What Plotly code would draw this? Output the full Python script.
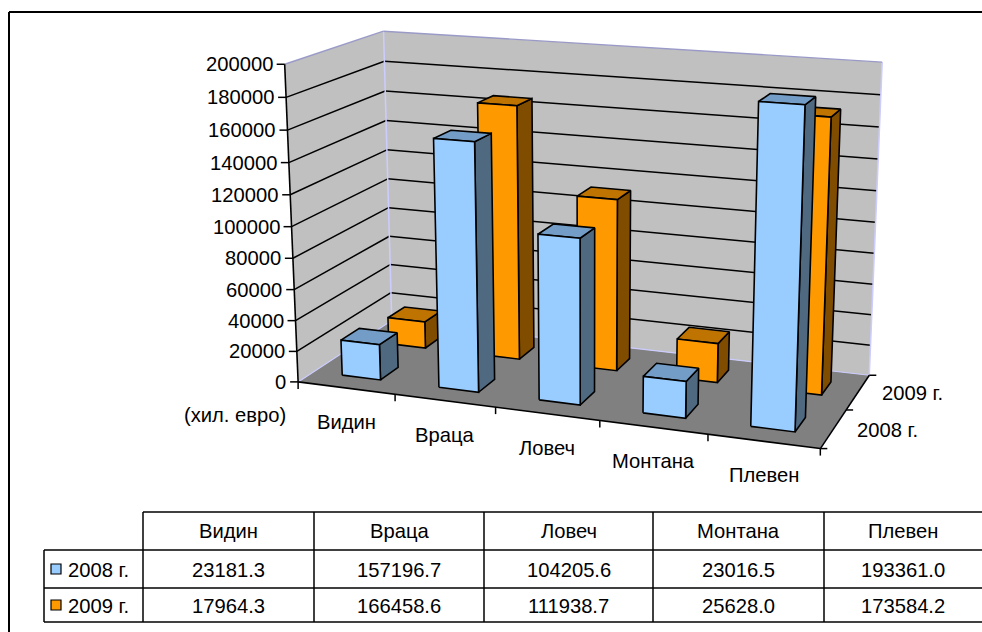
import numpy as np
import plotly.graph_objects as go

categories = ["Видин", "Враца", "Ловеч", "Монтана", "Плевен"]
series_names = ["2008 г.", "2009 г."]
values_2008 = [23181.3, 157196.7, 104205.6, 23016.5, 193361.0]
values_2009 = [17964.3, 166458.6, 111938.7, 25628.0, 173584.2]
value_ticks = [0, 20000, 40000, 60000, 80000, 100000, 120000, 140000, 160000, 180000, 200000]
unit_label = "(хил. евро)"

VMAX = 200000.0
FONT = "Liberation Sans"
FS = 20.2
FRONT = ["#99CCFF", "#FF9900"]
SIDE = ["#4F6980", "#804D00"]
TOP = ["#739DC6", "#BF7300"]

# view calibration: (category pos, depth pos, value fraction) <-> page pixel
calib = [
    (0, 0, 0, 298, 381), (1, 0, 0, 395, 393), (2, 0, 0, 496, 407), (3, 0, 0, 600, 421),
    (4, 0, 0, 708, 435), (5, 0, 0, 821, 448), (5, 2, 0, 869, 375), (0, 2, 0, 392, 322),
    (0, 0, 1, 285, 65), (0, 0, 1, 285, 65), (0, 0, .5, 290, 226), (0, 2, 1, 384, 30),
    (5, 2, 1, 882, 61), (5, 2, .5, 875, 223), (0, 2, .5, 388, 179),
    (4.3, .31, .9668, 759, 102), (1.3, .31, .786, 433, 139),
]
A, b = [], []
for u, v, w, x, y in calib:
    A.append([u, v, w, 1, 0, 0, 0, 0, -x*u, -x*v, -x*w]); b.append(x)
    A.append([0, 0, 0, 0, u, v, w, 1, -y*u, -y*v, -y*w]); b.append(y)
H = np.linalg.lstsq(np.array(A, float), np.array(b, float), rcond=None)[0]


def proj(u, v, val):
    w = val / VMAX
    d = H[8]*u + H[9]*v + H[10]*w + 1
    return ((H[0]*u + H[1]*v + H[2]*w + H[3]) / d, (H[4]*u + H[5]*v + H[6]*w + H[7]) / d)


fig = go.Figure()


def poly(pts, fill, line="#000000", lw=1.6):
    xs = [p[0] for p in pts] + [pts[0][0]]
    ys = [p[1] for p in pts] + [pts[0][1]]
    fig.add_trace(go.Scatter(x=xs, y=ys, mode="lines", fill="toself", fillcolor=fill,
                             line=dict(color=line, width=lw), hoverinfo="skip", showlegend=False))


def seg(p, q, color="#000000", lw=1.5):
    fig.add_trace(go.Scatter(x=[p[0], q[0]], y=[p[1], q[1]], mode="lines",
                             line=dict(color=color, width=lw), hoverinfo="skip", showlegend=False))


# walls and floor
poly([proj(0, 0, 0), proj(0, 2, 0), proj(0, 2, VMAX), proj(0, 0, VMAX)], "#C0C0C0", "rgba(0,0,0,0)", 0)
poly([proj(0, 2, 0), proj(5, 2, 0), proj(5, 2, VMAX), proj(0, 2, VMAX)], "#C0C0C0", "rgba(0,0,0,0)", 0)
poly([proj(0, 0, 0), proj(5, 0, 0), proj(5, 2, 0), proj(0, 2, 0)], "#808080", "rgba(0,0,0,0)", 0)
for t in value_ticks[1:-1]:
    seg(proj(0, 0, t), proj(0, 2, t))
    seg(proj(0, 2, t), proj(5, 2, t))
EDGE = "#CCCCFF"
seg(proj(0, 2, 0), proj(0, 2, VMAX), EDGE, 1.5)
seg(proj(5, 2, 0), proj(5, 2, VMAX), EDGE, 1.5)
seg(proj(0, 0, 0), proj(0, 2, 0), EDGE, 1.2)
seg(proj(0, 2, 0), proj(5, 2, 0), EDGE, 1.2)
seg(proj(5, 2, 0), proj(5, 0, 0), EDGE, 1.2)
seg(proj(0, 0, VMAX), proj(0, 2, VMAX), "#9A9AC8", 1.4)
seg(proj(0, 2, VMAX), proj(5, 2, VMAX), "#9A9AC8", 1.4)

# bars, back series first
BAR_U0, BAR_U1 = 0.30, 0.70
DEPTH0, DEPTH1 = 0.31, 0.69
for s, vals in [(1, values_2009), (0, values_2008)]:
    for i, val in enumerate(vals):
        u0, u1 = i + BAR_U0, i + BAR_U1
        v0, v1 = s + DEPTH0, s + DEPTH1
        poly([proj(u1, v0, 0), proj(u1, v1, 0), proj(u1, v1, val), proj(u1, v0, val)], SIDE[s])
        poly([proj(u0, v0, val), proj(u1, v0, val), proj(u1, v1, val), proj(u0, v1, val)], TOP[s])
        poly([proj(u0, v0, 0), proj(u1, v0, 0), proj(u1, v0, val), proj(u0, v0, val)], FRONT[s])

# axes
seg(proj(0, 0, 0), proj(0, 0, VMAX), "#000000", 1.6)
seg(proj(0, 0, 0), proj(5, 0, 0), "#000000", 1.6)
seg(proj(5, 0, 0), proj(5, 2, 0), "#000000", 1.6)


def label(x, y, text, anchor="center"):
    fig.add_annotation(x=x, y=y, text=text, showarrow=False, xref="x", yref="y", xanchor=anchor,
                       yanchor="middle", font=dict(family=FONT, size=FS, color="#000000"))


for t in value_ticks:
    x, y = proj(0, 0, t)
    seg((x - 8, y), (x, y), "#000000", 1.5)
    label(x - 10, y, str(t), "right")
for i in range(len(categories) + 1):
    x, y = proj(i, 0, 0)
    seg((x, y), (x, y + 7), "#000000", 1.5)
for i, c in enumerate(categories):
    x, y = proj(i + 0.5, 0, 0)
    label(x, y + 34, c)
for j in range(3):
    x, y = proj(5, j, 0)
    seg((x, y), (x + 7, y), "#000000", 1.5)
for j, n in enumerate(series_names):
    x, y = proj(5, j + 0.5, 0)
    label(x + 54, y + 1, n)
label(235, 415, unit_label)

# data table
col_x = [44, 143, 314, 484, 653, 824, 982]
row_y = [512, 550, 588, 622]
for x in col_x[1:-1]:
    seg((x, row_y[0]), (x, row_y[-1]), "#000000", 1.5)
seg((col_x[0], row_y[1]), (col_x[0], row_y[-1]), "#000000", 1.5)
seg((col_x[1], row_y[0]), (col_x[-1], row_y[0]), "#000000", 1.5)
for y in row_y[1:]:
    seg((col_x[0], y), (col_x[-1], y), "#000000", 1.5)
for i, c in enumerate(categories):
    xc = (col_x[i + 1] + col_x[i + 2]) / 2
    label(xc, (row_y[0] + row_y[1]) / 2, c)
    label(xc, (row_y[1] + row_y[2]) / 2 + 1, f"{values_2008[i]:.1f}")
    label(xc, (row_y[2] + row_y[3]) / 2 + 1, f"{values_2009[i]:.1f}")
for s, n in enumerate(series_names):
    yc = (row_y[s + 1] + row_y[s + 2]) / 2
    fig.add_trace(go.Scatter(x=[56], y=[yc], mode="markers", hoverinfo="skip", showlegend=False,
                             marker=dict(symbol="square", size=10, color=FRONT[s],
                                         line=dict(color="#000000", width=1.2))))
    label(66, yc + 1, n, "left")

# outer frame
seg((9, 632), (9, 12), "#000000", 2)
seg((9, 12), (982, 12), "#000000", 2)

fig.update_layout(
    width=982, height=632, margin=dict(l=0, r=0, t=0, b=0),
    paper_bgcolor="#FFFFFF", plot_bgcolor="#FFFFFF", showlegend=False,
    xaxis=dict(range=[0, 982], visible=False, fixedrange=True),
    yaxis=dict(range=[632, 0], visible=False, fixedrange=True),
)
fig.write_html("out.html", config={"displayModeBar": False, "responsive": False},
               post_script="document.body.style.margin='0';document.body.style.overflow='hidden';")
